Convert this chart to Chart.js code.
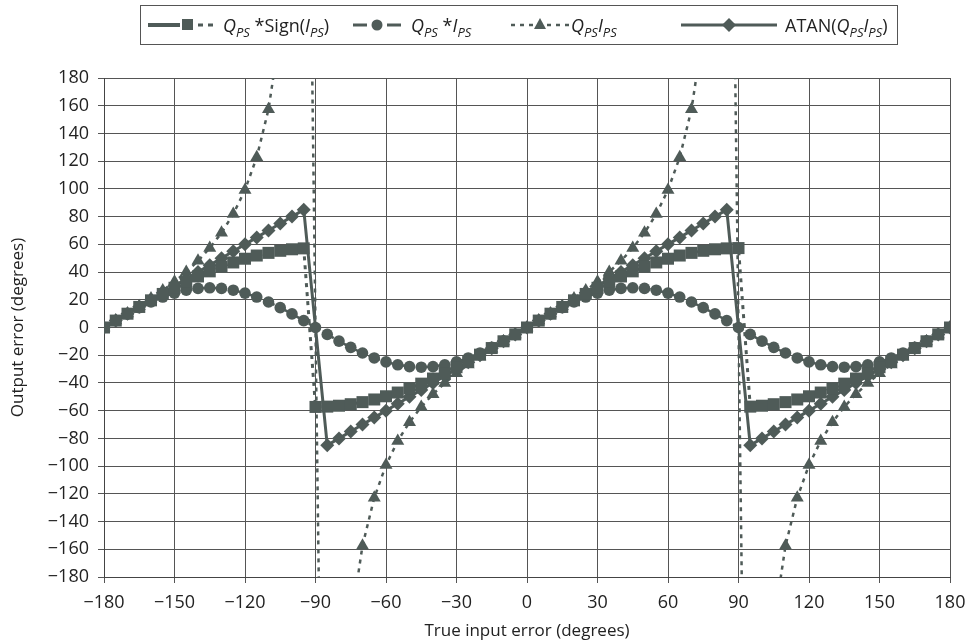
<!DOCTYPE html>
<html>
<head>
<meta charset="utf-8">
<script src="https://cdn.jsdelivr.net/npm/chart.js@4.4.0/dist/chart.umd.min.js"></script>
<style>
  html, body { margin: 0; padding: 0; background: #fff; }
  #wrap { position: relative; width: 980px; height: 644px; }
  #legend { position: absolute; left: 140px; top: 5px; width: 756px; height: 38px; border: 1px solid #555; font-family: "Open Sans", sans-serif; font-size: 18px; color: #222; }
  .item { position: absolute; top: 7px; height: 26px; line-height: 24px; white-space: nowrap; }
  .sym { position: absolute; top: 9px; }
  sub { font-size: 13px; vertical-align: -5px; line-height: 0; }
</style>
</head>
<body>
<div id="wrap">
  <canvas id="errChart" width="980" height="644"></canvas>
  <div id="legend">
    <svg class="sym" style="left:7px" width="70" height="20">
      <line x1="0" y1="10" x2="32" y2="10" stroke="#4f5b58" stroke-width="4"/>
      <rect x="34" y="4" width="11" height="11" fill="#4f5b58"/>
      <line x1="50" y1="10" x2="70" y2="10" stroke="#4f5b58" stroke-width="3" stroke-dasharray="5 5"/>
    </svg>
    <div class="item" style="left:82px"><i>Q</i><sub><i>PS</i></sub>&nbsp;*Sign(<i>I</i><sub><i>PS</i></sub>)</div>
    <svg class="sym" style="left:212px" width="48" height="20">
      <line x1="0" y1="10" x2="14" y2="10" stroke="#4f5b58" stroke-width="3"/>
      <circle cx="24" cy="10" r="5.5" fill="#4f5b58"/>
      <line x1="34" y1="10" x2="48" y2="10" stroke="#4f5b58" stroke-width="3"/>
    </svg>
    <div class="item" style="left:270px"><i>Q</i><sub><i>PS</i></sub>&nbsp;*<i>I</i><sub><i>PS</i></sub></div>
    <svg class="sym" style="left:370px" width="58" height="20">
      <line x1="0" y1="10" x2="58" y2="10" stroke="#4f5b58" stroke-width="2.5" stroke-dasharray="4 5"/>
      <polygon points="29,3 35,14 23,14" fill="#4f5b58"/>
    </svg>
    <div class="item" style="left:430px"><i>Q</i><sub><i>PS</i></sub><i>I</i><sub><i>PS</i></sub></div>
    <svg class="sym" style="left:540px" width="96" height="20">
      <line x1="0" y1="10" x2="96" y2="10" stroke="#4f5b58" stroke-width="3"/>
      <polygon points="48,3 55,10 48,17 41,10" fill="#4f5b58"/>
    </svg>
    <div class="item" style="left:644px">ATAN(<i>Q</i><sub><i>PS</i></sub><i>I</i><sub><i>PS</i></sub>)</div>
  </div>
</div>
<script>
  // true input error, degrees
  const inputError = [-180, -175, -170, -165, -160, -155, -150, -145, -140, -135, -130, -125, -120, -115, -110, -105, -100, -95,
    -90, -85, -80, -75, -70, -65, -60, -55, -50, -45, -40, -35, -30, -25, -20, -15, -10, -5,
    0, 5, 10, 15, 20, 25, 30, 35, 40, 45, 50, 55, 60, 65, 70, 75, 80, 85,
    90, 95, 100, 105, 110, 115, 120, 125, 130, 135, 140, 145, 150, 155, 160, 165, 170, 175, 180];

  const qSignI = [0, 4.99, 9.95, 14.83, 19.60, 24.21, 28.65, 32.86, 36.83, 40.51, 43.89, 46.93, 49.62, 51.93, 53.84, 55.34, 56.43, 57.08,
    -57.30, -57.08, -56.43, -55.34, -53.84, -51.93, -49.62, -46.93, -43.89, -40.51, -36.83, -32.86, -28.65, -24.21, -19.60, -14.83, -9.95, -4.99,
    0, 4.99, 9.95, 14.83, 19.60, 24.21, 28.65, 32.86, 36.83, 40.51, 43.89, 46.93, 49.62, 51.93, 53.84, 55.34, 56.43, 57.08,
    57.30, -57.08, -56.43, -55.34, -53.84, -51.93, -49.62, -46.93, -43.89, -40.51, -36.83, -32.86, -28.65, -24.21, -19.60, -14.83, -9.95, -4.99, 0];

  const qTimesI = [0, 4.97, 9.80, 14.32, 18.41, 21.95, 24.81, 26.92, 28.21, 28.65, 28.21, 26.92, 24.81, 21.95, 18.41, 14.32, 9.80, 4.97,
    0, -4.97, -9.80, -14.32, -18.41, -21.95, -24.81, -26.92, -28.21, -28.65, -28.21, -26.92, -24.81, -21.95, -18.41, -14.32, -9.80, -4.97,
    0, 4.97, 9.80, 14.32, 18.41, 21.95, 24.81, 26.92, 28.21, 28.65, 28.21, 26.92, 24.81, 21.95, 18.41, 14.32, 9.80, 4.97,
    0, -4.97, -9.80, -14.32, -18.41, -21.95, -24.81, -26.92, -28.21, -28.65, -28.21, -26.92, -24.81, -21.95, -18.41, -14.32, -9.80, -4.97, 0];

  const qOverI = [0, 5.01, 10.10, 15.35, 20.85, 26.72, 33.08, 40.12, 48.08, 57.30, 68.28, 81.83, 99.24, 122.87, 157.42, 213.83, 324.94, 654.89,
    null, -654.89, -324.94, -213.83, -157.42, -122.87, -99.24, -81.83, -68.28, -57.30, -48.08, -40.12, -33.08, -26.72, -20.85, -15.35, -10.10, -5.01,
    0, 5.01, 10.10, 15.35, 20.85, 26.72, 33.08, 40.12, 48.08, 57.30, 68.28, 81.83, 99.24, 122.87, 157.42, 213.83, 324.94, 654.89,
    null, -654.89, -324.94, -213.83, -157.42, -122.87, -99.24, -81.83, -68.28, -57.30, -48.08, -40.12, -33.08, -26.72, -20.85, -15.35, -10.10, -5.01, 0];

  const atanQI = [0, 5, 10, 15, 20, 25, 30, 35, 40, 45, 50, 55, 60, 65, 70, 75, 80, 85,
    null, -85, -80, -75, -70, -65, -60, -55, -50, -45, -40, -35, -30, -25, -20, -15, -10, -5,
    0, 5, 10, 15, 20, 25, 30, 35, 40, 45, 50, 55, 60, 65, 70, 75, 80, 85,
    null, -85, -80, -75, -70, -65, -60, -55, -50, -45, -40, -35, -30, -25, -20, -15, -10, -5, 0];

  const markColor = "#4f5b58";
  const tickFont = { family: "Open Sans", size: 18 };

  function toPoints(values) {
    return inputError.map((x, i) => ({ x: x, y: values[i] }));
  }

  function minusSign(v) {
    return String(v).replace("-", "\u2212");
  }

  function series(label, values, style, radius, dash, width) {
    return {
      label: label,
      data: toPoints(values),
      borderColor: markColor,
      backgroundColor: markColor,
      pointStyle: style,
      pointRadius: radius,
      pointBorderWidth: 0,
      borderWidth: width,
      borderDash: dash,
      spanGaps: true,
      tension: 0
    };
  }

  const ctx = document.getElementById("errChart").getContext("2d");
  new Chart(ctx, {
    type: "line",
    data: {
      datasets: [
        series("Q*Sign(I)", qSignI, "rect", 8.5, [4, 5], 3),
        series("Q*I", qTimesI, "circle", 5.8, [12, 5], 2.5),
        series("Q/I", qOverI, "triangle", 7.5, [4, 5], 2.5),
        series("ATAN(Q/I)", atanQI, "rectRot", 7, [], 3)
      ]
    },
    options: {
      responsive: false,
      animation: false,
      layout: { padding: { top: 78, right: 30 } },
      plugins: { legend: { display: false }, tooltip: { enabled: false } },
      scales: {
        x: {
          type: "linear",
          min: -180,
          max: 180,
          afterFit: s => { s.height = 67; },
          ticks: { stepSize: 30, font: tickFont, color: "#222", padding: 9, maxRotation: 0, callback: minusSign },
          grid: { color: "#555", tickLength: 6 },
          border: { color: "#444" },
          title: { display: true, text: "True input error (degrees)", font: { family: "Open Sans", size: 17 }, color: "#222", padding: { bottom: 3 } }
        },
        y: {
          min: -180,
          max: 180,
          afterFit: s => { s.width = 104; },
          ticks: { stepSize: 20, font: tickFont, color: "#222", padding: 9, callback: minusSign },
          grid: { color: "#555", tickLength: 6 },
          border: { color: "#444" },
          title: { display: true, text: "Output error (degrees)", font: { family: "Open Sans", size: 17 }, color: "#222", padding: { top: 8 } }
        }
      }
    }
  });
</script>
</body>
</html>
